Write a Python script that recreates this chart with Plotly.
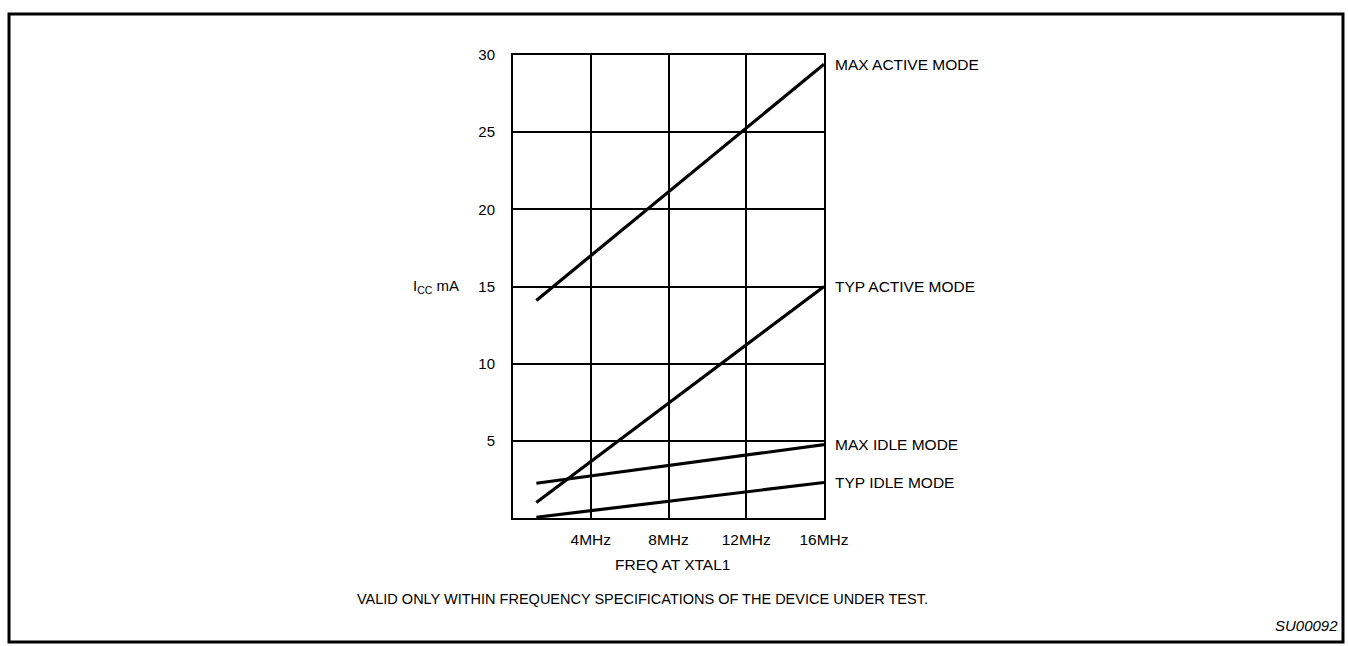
import plotly.graph_objects as go

# ---- data ----
freq_mhz = [1.2, 16]
max_active = [14.1, 29.4]
typ_active = [1.0, 15.0]
max_idle = [2.25, 4.75]
typ_idle = [0.05, 2.3]
series_names = ["MAX ACTIVE MODE", "TYP ACTIVE MODE", "MAX IDLE MODE", "TYP IDLE MODE"]
x_tick_vals = [4, 8, 12, 16]
x_tick_text = ["4MHz", "8MHz", "12MHz", "16MHz"]
y_tick_vals = [5, 10, 15, 20, 25, 30]

W, H = 1348, 646
L, R, T, B = 513, 824, 55, 518  # plot area in pixels

def px(x):
    return (x - L) / (R - L)

def py(y):
    return (B - y) / (B - T)

FONT = "Liberation Sans, Arial, sans-serif"

fig = go.Figure()
series = [max_active, typ_active, max_idle, typ_idle]
for name, vals in zip(series_names, series):
    fig.add_trace(go.Scatter(x=freq_mhz, y=vals, mode="lines", name=name,
                             line=dict(color="black", width=3.2), showlegend=False,
                             hoverinfo="skip"))
    fig.add_annotation(x=16, y=vals[-1], xref="x", yref="y", text=name,
                       showarrow=False, xanchor="left", yanchor="middle",
                       xshift=9, font=dict(family=FONT, size=15.5, color="black"))

fig.update_layout(
    width=W, height=H,
    margin=dict(l=L, r=W - R, t=T, b=H - B, pad=0),
    paper_bgcolor="white", plot_bgcolor="white",
    font=dict(family=FONT, size=15, color="black"),
    showlegend=False,
)
fig.update_xaxes(range=[0, 16], tickvals=x_tick_vals, ticktext=x_tick_text,
                 showgrid=True, gridcolor="black", gridwidth=2,
                 showline=True, linecolor="black", linewidth=2, mirror=True,
                 ticks="", ticklabelstandoff=6, zeroline=False,
                 tickfont=dict(family=FONT, size=15.5, color="black"))
fig.update_yaxes(range=[0, 30], tickvals=y_tick_vals,
                 showgrid=True, gridcolor="black", gridwidth=2,
                 showline=True, linecolor="black", linewidth=2, mirror=True,
                 ticks="", ticklabelstandoff=13, zeroline=False,
                 tickfont=dict(family=FONT, size=15, color="black"))

# axis labels and notes
fig.add_annotation(x=px(436), y=py(286), xref="paper", yref="paper",
                   text="I<sub>CC</sub> mA", showarrow=False,
                   xanchor="center", yanchor="middle",
                   font=dict(family=FONT, size=15, color="black"))
fig.add_annotation(x=px(672), y=py(564), xref="paper", yref="paper",
                   text="FREQ AT XTAL1", showarrow=False,
                   xanchor="center", yanchor="middle",
                   font=dict(family=FONT, size=15.5, color="black"))
fig.add_annotation(x=px(642), y=py(599), xref="paper", yref="paper",
                   text="VALID ONLY WITHIN FREQUENCY SPECIFICATIONS OF THE DEVICE UNDER TEST.",
                   showarrow=False, xanchor="center", yanchor="middle",
                   font=dict(family=FONT, size=14.5, color="black"))
fig.add_annotation(x=px(1340), y=py(625), xref="paper", yref="paper",
                   text="<i>SU00092</i>", showarrow=False,
                   xanchor="right", yanchor="middle",
                   font=dict(family=FONT, size=15, color="black"))

# outer frame
fig.add_shape(type="rect", xref="paper", yref="paper",
              x0=px(9), x1=px(1343), y0=py(642), y1=py(14),
              line=dict(color="black", width=3), fillcolor="rgba(0,0,0,0)",
              layer="above")

fig.write_html(
    "out.html",
    config={"displayModeBar": False},
    post_script="document.body.style.margin='0';document.body.style.overflow='hidden';",
)
